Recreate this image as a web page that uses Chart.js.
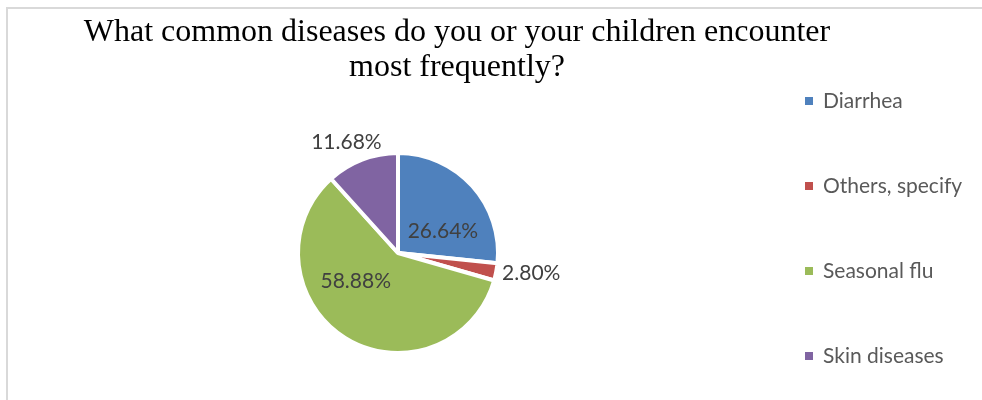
<!DOCTYPE html>
<html>
<head>
<meta charset="utf-8">
<script src="https://cdn.jsdelivr.net/npm/chart.js@4.4.1/dist/chart.umd.min.js"></script>
<style>
    html, body { margin: 0; padding: 0; background: #fff; }
    #wrap { position: relative; width: 982px; height: 400px; overflow: hidden; }
    #frame { position: absolute; left: 6px; top: 7px; width: 1000px; height: 420px;
             border-left: 2px solid #d9d9d9; border-top: 2px solid #d9d9d9; }
    canvas { position: absolute; left: 0; top: 0; }
</style>
</head>
<body>
<div id="wrap">
    <div id="frame"></div>
    <canvas id="pieChart" width="982" height="400"></canvas>
</div>
<script>
const titleLines = ['What common diseases do you or your children encounter', 'most frequently?'];
const categories = ['Diarrhea', 'Others, specify', 'Seasonal flu', 'Skin diseases'];
const shares = [26.64, 2.80, 58.88, 11.68];
const sliceColors = ['#4f81bd', '#c0504d', '#9bbb59', '#8064a2'];

// Title drawn centred over the plot + legend block (like the Excel original)
const sheetTitle = {
    id: 'sheetTitle',
    afterDraw(chart, args, opts) {
        const ctx = chart.ctx;
        ctx.save();
        ctx.font = opts.font;
        ctx.fillStyle = opts.color;
        ctx.textAlign = 'center';
        ctx.textBaseline = 'alphabetic';
        opts.lines.forEach((line, i) => {
            ctx.fillText(line, opts.x, opts.y + i * opts.lineGap);
        });
        ctx.restore();
    }
};

// Legend with wide spacing, squares on the left
const sideLegend = {
    id: 'sideLegend',
    afterDraw(chart, args, opts) {
        const ctx = chart.ctx;
        const ds = chart.data.datasets[0];
        ctx.save();
        ctx.font = opts.font;
        ctx.textAlign = 'left';
        ctx.textBaseline = 'middle';
        chart.data.labels.forEach((label, i) => {
            const y = opts.top + i * opts.step;
            ctx.fillStyle = ds.backgroundColor[i];
            ctx.fillRect(opts.x, y - opts.box / 2, opts.box, opts.box);
            ctx.fillStyle = opts.color;
            ctx.fillText(label, opts.x + opts.box + 10, y);
        });
        ctx.restore();
    }
};

// Percentage labels placed off each arc's own geometry
const sliceLabels = {
    id: 'sliceLabels',
    afterDatasetsDraw(chart, args, opts) {
        const ctx = chart.ctx;
        const meta = chart.getDatasetMeta(0);
        const values = chart.data.datasets[0].data;
        ctx.save();
        ctx.font = opts.font;
        ctx.fillStyle = opts.color;
        ctx.textBaseline = 'middle';
        meta.data.forEach((arc, i) => {
            const p = arc.getProps(['x', 'y', 'startAngle', 'endAngle', 'outerRadius'], true);
            const place = opts.placement[i];
            const a = (p.startAngle + p.endAngle) / 2 + place.nudge * Math.PI / 180;
            const r = p.outerRadius * place.dist;
            ctx.textAlign = place.align;
            ctx.fillText(values[i].toFixed(2) + '%', p.x + Math.cos(a) * r, p.y + Math.sin(a) * r);
        });
        ctx.restore();
    }
};

const ctx = document.getElementById('pieChart').getContext('2d');
new Chart(ctx, {
    type: 'pie',
    data: {
        labels: categories,
        datasets: [{
            data: shares,
            backgroundColor: sliceColors,
            borderColor: '#ffffff',
            borderWidth: 4,
            radius: 100
        }]
    },
    options: {
        responsive: false,
        animation: false,
        events: [],
        layout: { padding: { left: 0, right: 186, top: 106, bottom: 0 } },
        plugins: {
            legend: { display: false },
            tooltip: { enabled: false },
            title: { display: false },
            sheetTitle: {
                lines: titleLines,
                font: '32px "Liberation Serif"',
                color: '#000000',
                x: 457,
                y: 41,
                lineGap: 35
            },
            sideLegend: {
                font: '21px Lato',
                color: '#595959',
                x: 805,
                top: 101,
                step: 85,
                box: 8
            },
            sliceLabels: {
                font: '21px Lato',
                color: '#404040',
                placement: [
                    { dist: 0.5, nudge: 16, align: 'center' },
                    { dist: 1.06, nudge: 0, align: 'left' },
                    { dist: 0.51, nudge: 24, align: 'center' },
                    { dist: 1.22, nudge: -4, align: 'center' }
                ]
            }
        }
    },
    plugins: [sheetTitle, sideLegend, sliceLabels]
});
</script>
</body>
</html>
